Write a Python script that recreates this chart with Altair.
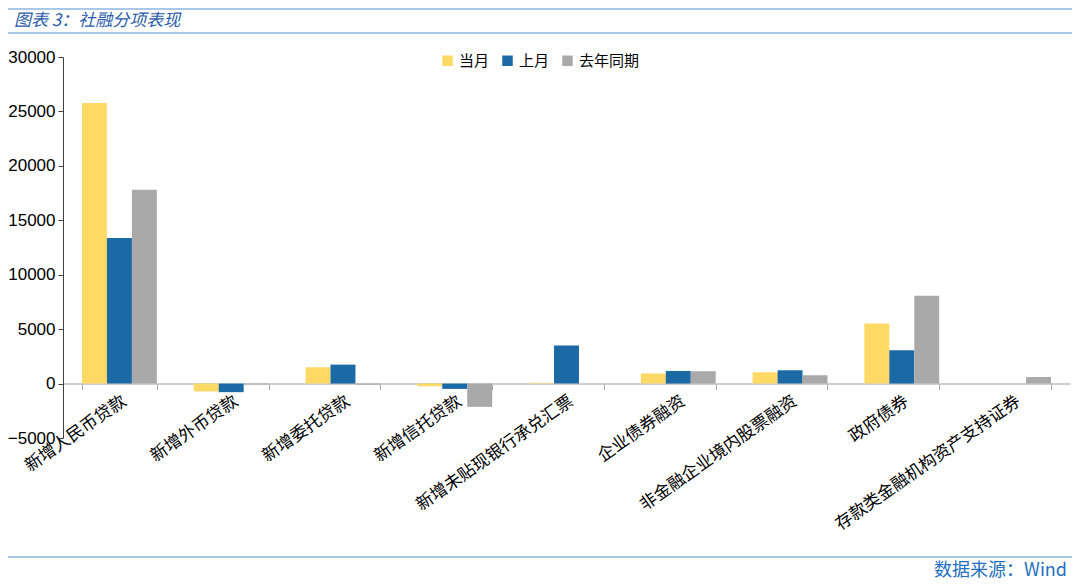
import altair as alt
import pandas as pd

categories = ["新增人民币贷款", "新增外币贷款", "新增委托贷款", "新增信托贷款",
              "新增未贴现银行承兑汇票", "企业债券融资", "非金融企业境内股票融资",
              "政府债券", "存款类金融机构资产支持证券"]
series_names = ["当月", "上月", "去年同期"]
current = [25780, -720, 1500, -250, 60, 920, 1040, 5510, 0]
previous = [13380, -790, 1740, -490, 3490, 1160, 1220, 3060, 0]
last_year = [17800, -80, -100, -2140, 0, 1130, 760, 8070, 610]
y_ticks = [-5000, 0, 5000, 10000, 15000, 20000, 25000, 30000]
colors = ["#FFD966", "#1B6AA5", "#A9A9A9"]
title_text = "图表 3：社融分项表现"
source_text = "数据来源：Wind"

rows = []
for s, vals in zip(series_names, [current, previous, last_year]):
    for c, v in zip(categories, vals):
        rows.append({"类别": c, "系列": s, "值": v})
df = pd.DataFrame(rows)

W, H = 1007, 381
CJK = "Noto Sans CJK SC"
zero_off = -H * 5000 / 35000

bars = alt.Chart(df).mark_bar().encode(
    x=alt.X("类别:N", sort=categories,
            scale=alt.Scale(paddingInner=0.33, paddingOuter=0.17),
            axis=alt.Axis(title=None, labelAngle=325, labelFont=CJK, labelFontSize=17,
                          labelColor="#000000", domainColor="#BFBFBF", domainWidth=1.5,
                          tickColor="#A6A6A6", tickSize=6, tickBand="extent", labelLimit=0,
                          offset=zero_off, labelPadding=3)),
    xOffset=alt.XOffset("系列:N", sort=series_names),
    y=alt.Y("值:Q", scale=alt.Scale(domain=[-5000, 30000], nice=False),
            axis=alt.Axis(title=None, values=y_ticks, grid=False, format="d",
                          labelFont="Liberation Sans",
                          labelFontSize=17, labelColor="#000000", domainColor="#404040",
                          tickColor="#404040", tickSize=5, labelPadding=3)),
    color=alt.Color("系列:N", sort=series_names,
                    scale=alt.Scale(domain=series_names, range=colors),
                    legend=alt.Legend(title=None, orient="none", legendX=377, legendY=-4,
                                      direction="horizontal", symbolType="square",
                                      symbolSize=110, symbolStrokeWidth=0,
                                      labelFont=CJK, labelFontSize=15, columnPadding=10)),
)

title = alt.Chart(pd.DataFrame({"t": [title_text]})).mark_text(
    align="left", baseline="middle", font=CJK, fontSize=17, fontStyle="italic",
    color="#2A5CAA").encode(text="t:N", x=alt.value(-49), y=alt.value(-36))

source = alt.Chart(pd.DataFrame({"t": [source_text]})).mark_text(
    align="right", baseline="middle", font=CJK, fontSize=18,
    color="#2570C0").encode(text="t:N", x=alt.value(1004), y=alt.value(514))

line_top = alt.Chart(pd.DataFrame({"a": [0]})).mark_rule(color="#8DB4E2", strokeWidth=1.5).encode(
    x=alt.value(-55), x2=alt.value(1009), y=alt.value(-48))
line_mid = alt.Chart(pd.DataFrame({"a": [0]})).mark_rule(color="#8DB4E2", strokeWidth=1.5).encode(
    x=alt.value(-55), x2=alt.value(1009), y=alt.value(-24))
line_bot = alt.Chart(pd.DataFrame({"a": [0]})).mark_rule(color="#8DB4E2", strokeWidth=1.5).encode(
    x=alt.value(-55), x2=alt.value(1009), y=alt.value(500))

chart = alt.layer(bars, title, source, line_top, line_mid, line_bot).properties(
    width=W, height=H,
    autosize=alt.AutoSizeParams(type="none"),
    padding={"left": 55, "top": 49, "right": 2, "bottom": 142},
).configure_view(stroke=None)

chart.save("out.html", embed_options={"renderer": "svg", "actions": False})
